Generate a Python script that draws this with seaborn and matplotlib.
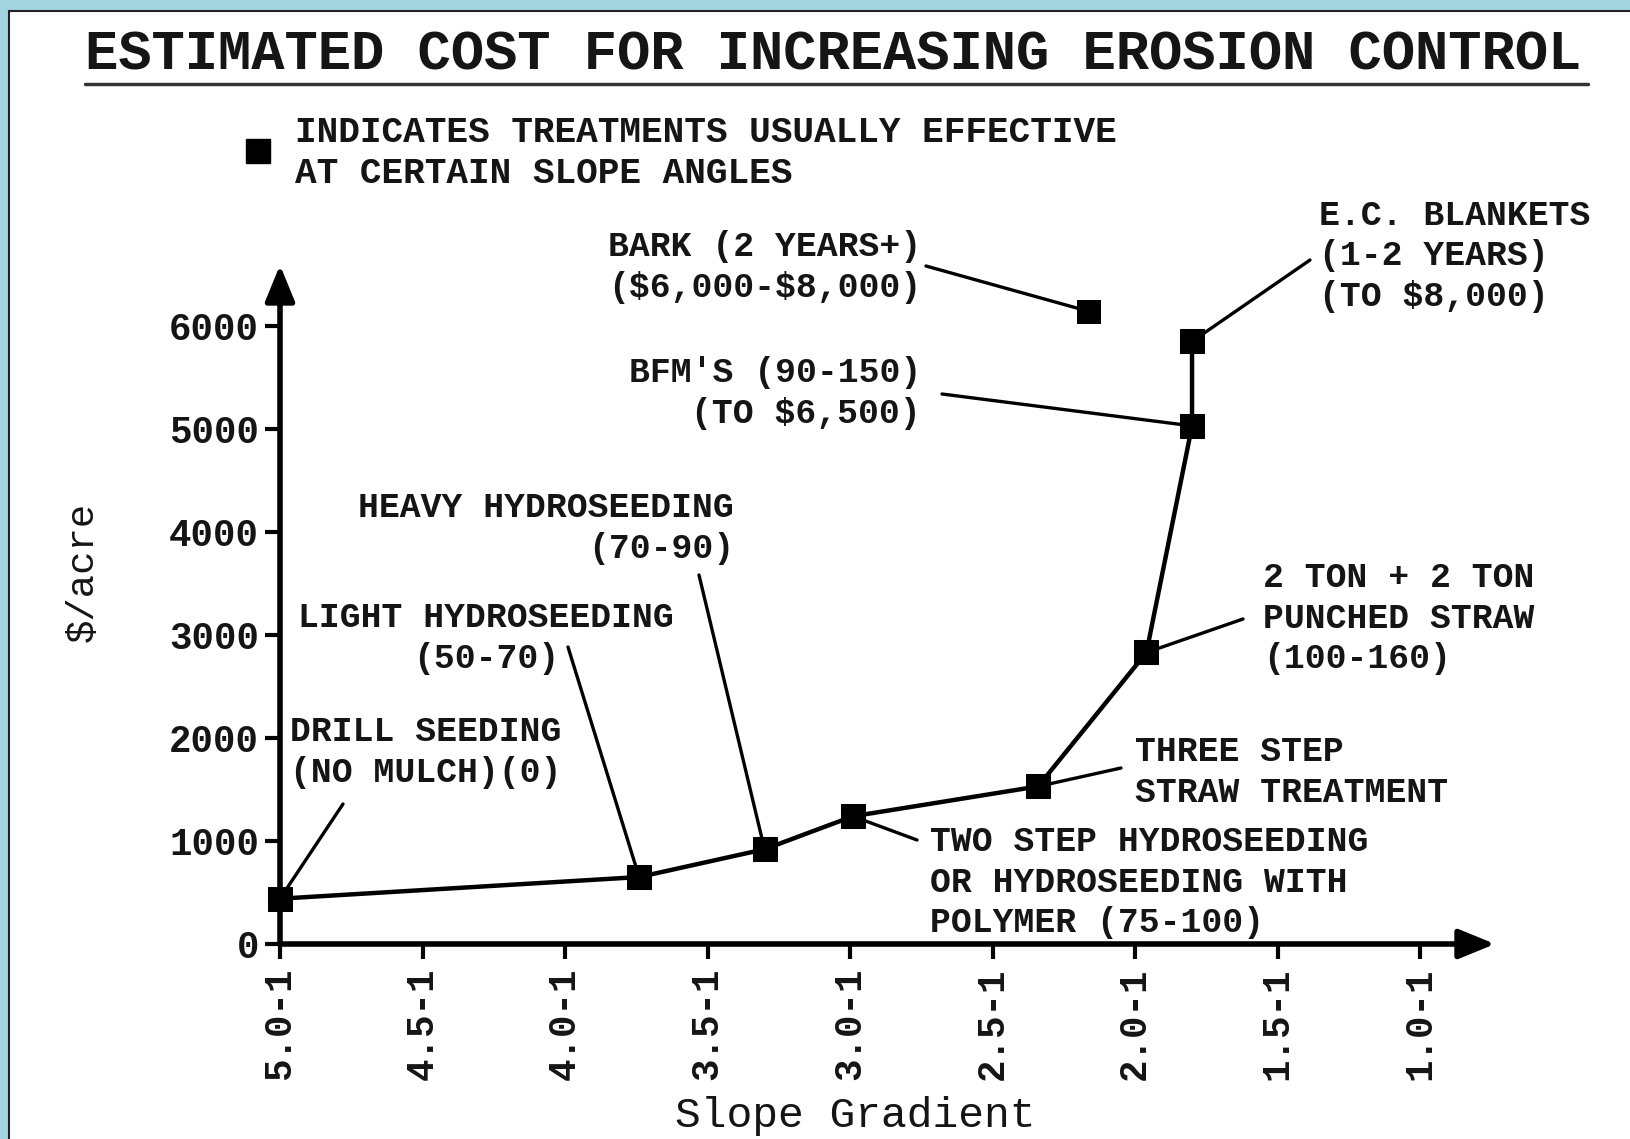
import matplotlib
matplotlib.use("Agg")
import numpy as np
import pandas as pd
import matplotlib.pyplot as plt
import seaborn as sns
from matplotlib.patches import Rectangle
from matplotlib.lines import Line2D

# values
slope = [5.0, 3.74, 3.30, 2.99, 2.34, 1.96, 1.80, 1.80]
cost = [440, 650, 920, 1240, 1530, 2830, 5030, 5850]
bark_slope = [2.16]
bark_cost = [6140]

xticks = [5.0, 4.5, 4.0, 3.5, 3.0, 2.5, 2.0, 1.5, 1.0]
xticklabels = ["5.0-1", "4.5-1", "4.0-1", "3.5-1", "3.0-1", "2.5-1", "2.0-1", "1.5-1", "1.0-1"]
yticks = [0, 1000, 2000, 3000, 4000, 5000, 6000]

title = "ESTIMATED COST FOR INCREASING EROSION CONTROL"
legend_text = "INDICATES TREATMENTS USUALLY EFFECTIVE\nAT CERTAIN SLOPE ANGLES"

# treatment labels, index of the point they point at (-1 = bark)
treat_text = [
    "DRILL SEEDING\n(NO MULCH)(0)",
    "LIGHT HYDROSEEDING\n(50-70)",
    "HEAVY HYDROSEEDING\n(70-90)",
    "TWO STEP HYDROSEEDING\nOR HYDROSEEDING WITH\nPOLYMER (75-100)",
    "THREE STEP\nSTRAW TREATMENT",
    "2 TON + 2 TON\nPUNCHED STRAW\n(100-160)",
    "BFM'S (90-150)\n(TO \\$6,500)",
    "E.C. BLANKETS\n(1-2 YEARS)\n(TO \\$8,000)",
    "BARK (2 YEARS+)\n(\\$6,000-\\$8,000)",
]
treat_point = [0, 1, 2, 3, 4, 5, 6, 7, -1]

# layout (pixels from top-left): text anchor, alignment, leader start
W, H = 1631, 1139
text_pos = [(290, 752), (486, 638), (734, 528), (930, 882), (1135, 772),
            (1263, 618), (921, 393), (1319, 256), (921, 267)]
text_ha = ["left", "center", "right", "left", "left", "left", "right", "left", "right"]
leader = [(343, 804), (568, 647), (699, 575), (917, 840), (1121, 768),
          (1243, 619), (942, 394), (1310, 260), (926, 266)]

sns.set_style("white")
plt.rcParams['font.family'] = ['Liberation Mono', 'DejaVu Sans']
plt.rcParams['font.weight'] = 'bold'
ink = '#151515'

fig = plt.figure(figsize=(W / 100, H / 100), dpi=100, facecolor='#a2d5df')
fig.patches.append(Rectangle((9 / W, -0.05), 1.2, 1.05 - 11 / H, transform=fig.transFigure,
                             facecolor='white', edgecolor='#222222', lw=1.5, zorder=-5))

ax = fig.add_axes([280 / W, 1 - 944 / H, 1215 / W, 679 / H])
ax.set_facecolor('none')

df = pd.DataFrame({'slope': slope, 'cost': cost})
sns.lineplot(data=df, x='slope', y='cost', ax=ax, color='black', lw=3.2, sort=False,
             estimator=None, marker='s', markersize=17, markeredgecolor='black',
             zorder=4, clip_on=False)
sns.scatterplot(x=bark_slope, y=bark_cost, ax=ax, marker='s', s=17 ** 2, color='black',
                edgecolor='black', linewidth=0, zorder=4, clip_on=False)

ax.set_xlim(5.0, 0.737)
ax.set_ylim(0, 6592)
for s in ax.spines.values():
    s.set_visible(False)

arrow = dict(arrowstyle='-|>,head_length=1.1,head_width=0.45', color='black', lw=4,
             shrinkA=0, shrinkB=0, mutation_scale=20)
ax.annotate('', xy=(1, 0), xytext=(0, 0), xycoords='axes fraction', arrowprops=arrow, zorder=3)
ax.annotate('', xy=(0, 1), xytext=(0, 0), xycoords='axes fraction', arrowprops=arrow, zorder=3)

ax.set_xticks(xticks)
ax.set_xticklabels(xticklabels, rotation=90, va='top', ha='center')
ax.set_yticks(yticks)
ax.tick_params(axis='x', direction='out', length=11, width=3, pad=6, labelsize=27,
               colors='black', bottom=True)
ax.tick_params(axis='y', direction='out', length=11, width=3, pad=4, labelsize=27,
               colors='black', left=True)
ax.set_xlabel('')
ax.set_ylabel('')
for lab in ax.get_xticklabels() + ax.get_yticklabels():
    lab.set_color(ink)

def fx(x):
    return x / W

def fy(y):
    return 1 - y / H

# title + underline
fig.text(fx(85), fy(55), title, fontsize=40, ha='left', va='center', color=ink)
fig.add_artist(Line2D([fx(85), fx(1588)], [fy(84), fy(84)], lw=2.5, color='#333333'))

# legend
fig.add_artist(Line2D([fx(258)], [fy(151)], marker='s', ms=17, color='black', lw=0))
fig.text(fx(295), fy(153), legend_text, fontsize=26, ha='left', va='center',
         linespacing=1.2, color=ink)

# treatment labels with leaders
for txt, idx, tp, ha, ld in zip(treat_text, treat_point, text_pos, text_ha, leader):
    if idx < 0:
        px, py = bark_slope[0], bark_cost[0]
    else:
        px, py = slope[idx], cost[idx]
    ax.annotate('', xy=(px, py), xycoords='data', xytext=(ld[0], H - ld[1]),
                textcoords='figure pixels', annotation_clip=False, zorder=2,
                arrowprops=dict(arrowstyle='-', lw=2.4, color='black', shrinkA=0, shrinkB=0))
    fig.text(fx(tp[0]), fy(tp[1]), txt, fontsize=25, ha=ha, va='center', multialignment=ha,
             linespacing=1.27, color=ink)

fig.text(fx(83), fy(572), '$/acre', rotation=90, fontsize=28, ha='center', va='center',
         weight='normal', color=ink)
fig.text(fx(855), fy(1116), 'Slope Gradient', fontsize=31, ha='center', va='center',
         weight='normal', color=ink)

fig.savefig('out.png', dpi=100, facecolor=fig.get_facecolor())
